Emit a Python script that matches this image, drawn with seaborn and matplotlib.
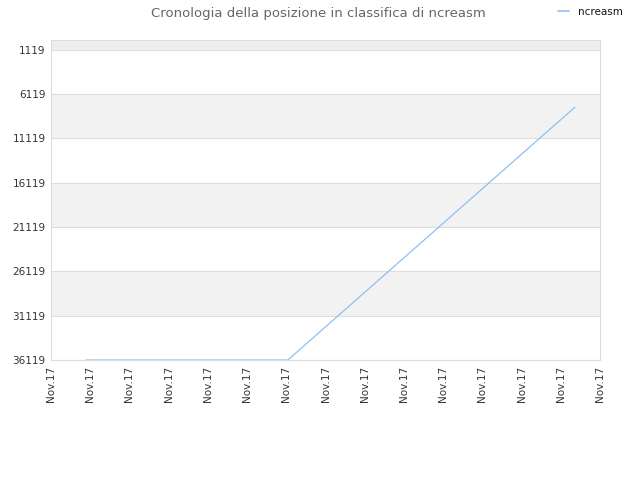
import pandas as pd
import matplotlib
matplotlib.use("Agg")
import matplotlib.pyplot as plt
import seaborn as sns

# data
days = [0.89, 6.04, 13.36]
ranks = [36119, 36119, 7590]
tick_pos = list(range(15))
tick_labels = ["Nov.17"] * 15
y_ticks = [1119, 6119, 11119, 16119, 21119, 26119, 31119, 36119]

df = pd.DataFrame({"day": days, "rank": ranks, "player": "ncreasm"})

sns.set_style("white")
plt.rcParams["font.family"] = ["DejaVu Sans"]

fig = plt.figure(figsize=(6.4, 4.8), dpi=100)
ax = fig.add_axes([0.0797, 0.25, 0.8578, 0.6667])

# alternating bands
ax.axhspan(0, y_ticks[0], color="#eeeeee", zorder=0, lw=0)
for i in range(1, len(y_ticks) - 1, 2):
    ax.axhspan(y_ticks[i], y_ticks[i + 1], color="#f2f2f2", zorder=0, lw=0)

sns.lineplot(
    data=df,
    x="day",
    y="rank",
    hue="player",
    palette=["#90bff0"],
    linewidth=0.9,
    legend=False,
    ax=ax
)

ax.set_xlim(0, 14)
ax.set_ylim(36119, 0)
ax.set_yticks(y_ticks)
ax.set_yticklabels([str(v) for v in y_ticks], fontsize=7.5, color="#333333")
ax.set_xticks(tick_pos)
ax.set_xticklabels(tick_labels, rotation=90, fontsize=7.5, color="#333333")
ax.tick_params(length=0, pad=4)
ax.set_xlabel("")
ax.set_ylabel("")

ax.grid(axis="y", color="#dddddd", linewidth=0.8)
ax.set_axisbelow(True)
for s in ax.spines.values():
    s.set_color("#dddddd")
    s.set_linewidth(0.8)

fig.text(0.498, 0.972, "Cronologia della posizione in classifica di ncreasm",
         ha="center", va="center", fontsize=9.5, color="#666666")

handle = plt.Line2D([], [], color="#90bff0", linewidth=1.2)
fig.legend([handle], ["ncreasm"], loc="upper right", bbox_to_anchor=(0.988, 1.005),
           frameon=False, fontsize=7.5, handlelength=1.0, handletextpad=0.9,
           labelcolor="#111111")

fig.savefig("out.png", dpi=100)
